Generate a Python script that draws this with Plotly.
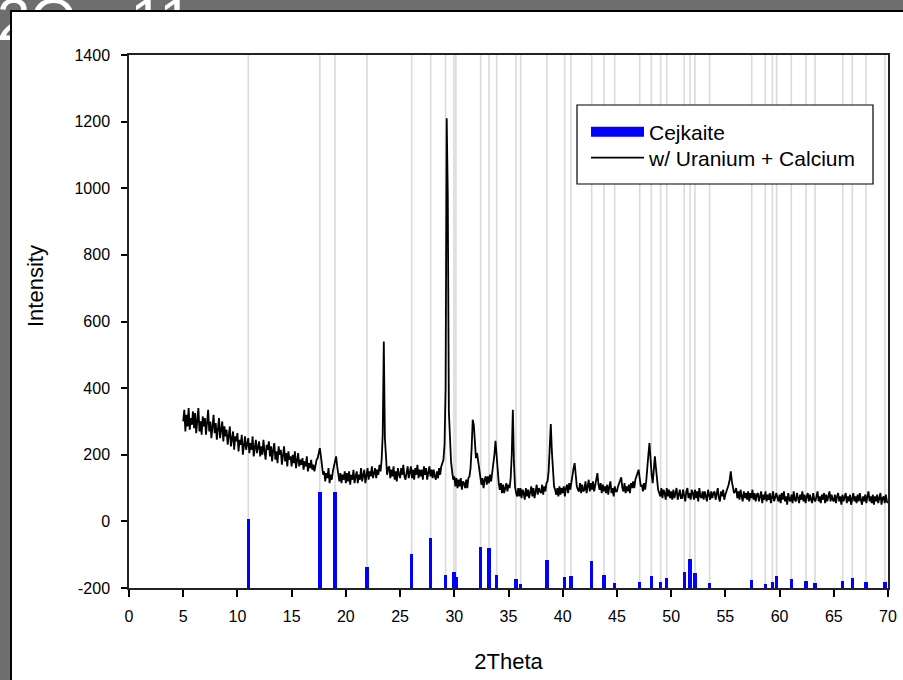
import numpy as np
import plotly.graph_objects as go

# ---------------- data ----------------
# Cejkaite reference pattern (2Theta, top of each stick; sticks start at -200)
cejkaite_2theta = [11.0, 17.6, 19.0, 21.95, 26.07, 27.82, 29.2, 29.97, 30.15,
                   32.43, 33.2, 33.91, 35.69, 36.12, 38.55, 40.18, 40.76, 42.67,
                   43.81, 44.79, 47.1, 48.17, 49.03, 49.59, 51.21, 51.74, 52.2,
                   53.55, 57.43, 58.69, 59.33, 59.73, 61.08, 62.44, 63.27, 65.82,
                   66.71, 67.97, 69.72]
cejkaite_top = [8, 89, 88, -136, -99, -51, -161, -153, -168,
                -76, -79, -161, -173, -188, -116, -168, -164, -118,
                -161, -186, -181, -164, -181, -169, -152, -112, -156,
                -186, -176, -188, -181, -164, -173, -178, -186, -178,
                -171, -181, -183]
bar_base = -200

# Measured pattern, 2Theta from 5.0 in steps of 0.1 (one row per degree)
sample_intensity = [
    300, 335, 270, 320, 285, 340, 275, 310, 290, 330,   # 5
    280, 325, 265, 305, 340, 270, 300, 260, 315, 285,   # 6
    310, 260, 295, 335, 270, 300, 250, 290, 320, 265,   # 7
    295, 245, 280, 310, 250, 275, 300, 240, 285, 255,   # 8
    275, 230, 260, 285, 225, 250, 270, 215, 255, 240,   # 9
    265, 210, 245, 230, 260, 200, 240, 255, 215, 235,   # 10
    250, 205, 235, 215, 255, 195, 230, 245, 205, 225,   # 11
    240, 195, 225, 200, 245, 210, 185, 230, 215, 240,   # 12
    195, 225, 180, 215, 235, 185, 210, 175, 225, 200,   # 13
    215, 170, 200, 225, 180, 205, 165, 210, 185, 195,   # 14
    165, 200, 175, 210, 160, 190, 205, 165, 185, 170,   # 15
    190, 155, 180, 165, 195, 150, 175, 160, 185, 155,   # 16
    170, 150, 175, 185, 190, 210, 220, 195, 160, 140,   # 17
    150, 120, 145, 130, 160, 115, 140, 125, 150, 165,   # 18
    180, 195, 165, 140, 120, 145, 115, 140, 125, 150,   # 19
    115, 145, 120, 150, 110, 140, 125, 155, 115, 135,   # 20
    150, 115, 140, 125, 160, 120, 145, 155, 115, 140,   # 21
    160, 125, 150, 135, 165, 130, 145, 160, 130, 155,   # 22
    140, 170, 150, 185, 260, 540, 250, 170, 140, 160,   # 23
    165, 130, 155, 135, 165, 125, 150, 120, 160, 140,   # 24
    130, 160, 140, 170, 135, 125, 155, 165, 130, 150,   # 25
    165, 130, 155, 125, 160, 140, 170, 130, 155, 135,   # 26
    155, 125, 165, 140, 160, 125, 150, 165, 135, 155,   # 27
    130, 155, 135, 125, 150, 130, 160, 140, 165, 175,   # 28
    185, 230, 400, 1210, 980, 330, 220, 180, 150, 125,  # 29
    135, 105, 130, 100, 125, 105, 130, 95, 120, 115,    # 30
    100, 125, 100, 130, 135, 160, 220, 305, 290, 230,   # 31
    190, 205, 180, 150, 125, 110, 130, 100, 125, 135,   # 32
    110, 135, 115, 140, 120, 145, 160, 200, 242, 190,   # 33
    150, 115, 95, 115, 85, 110, 85, 105, 115, 90,       # 34
    110, 100, 130, 200, 335, 180, 105, 85, 75, 100,     # 35
    75, 100, 70, 95, 85, 65, 100, 75, 95, 70,           # 36
    90, 105, 75, 100, 70, 95, 110, 80, 100, 90,         # 37
    85, 110, 80, 105, 90, 115, 120, 150, 230, 292,      # 38
    210, 140, 105, 95, 80, 100, 75, 105, 80, 100,       # 39
    85, 105, 75, 100, 110, 85, 115, 95, 120, 150,       # 40
    160, 175, 140, 105, 95, 90, 115, 85, 110, 90,       # 41
    95, 120, 85, 110, 125, 90, 115, 95, 120, 90,        # 42
    105, 130, 145, 110, 95, 115, 85, 110, 90, 105,      # 43
    85, 110, 80, 105, 120, 85, 100, 75, 105, 90,        # 44
    90, 105, 115, 125, 132, 100, 90, 115, 85, 105,      # 45
    90, 110, 85, 115, 100, 120, 100, 125, 135, 145,     # 46
    155, 130, 105, 110, 90, 115, 95, 120, 150, 200,     # 47
    235, 170, 140, 115, 150, 195, 160, 115, 95, 85,     # 48
    75, 100, 70, 95, 85, 65, 100, 75, 95, 70,           # 49
    90, 65, 95, 70, 85, 100, 65, 80, 95, 70,            # 50
    70, 95, 80, 60, 90, 100, 70, 85, 65, 95,            # 51
    85, 65, 95, 70, 90, 60, 100, 75, 70, 90,            # 52
    65, 90, 75, 60, 95, 80, 65, 90, 70, 85,             # 53
    90, 65, 80, 100, 70, 60, 90, 75, 95, 65,            # 54
    80, 90, 95, 110, 125, 150, 120, 100, 85, 90,        # 55
    100, 70, 90, 65, 95, 75, 60, 90, 70, 85,            # 56
    65, 90, 60, 85, 70, 95, 65, 85, 60, 80,             # 57
    85, 60, 80, 90, 55, 80, 65, 90, 60, 80,             # 58
    65, 85, 55, 80, 90, 60, 75, 85, 70, 60,             # 59
    80, 55, 85, 65, 90, 60, 75, 50, 85, 65,             # 60
    60, 80, 55, 90, 65, 60, 85, 65, 55, 80,             # 61
    65, 90, 60, 80, 55, 75, 85, 60, 80, 65,             # 62
    55, 85, 65, 60, 80, 90, 60, 75, 55, 80,             # 63
    65, 85, 55, 80, 60, 75, 90, 60, 80, 65,             # 64
    60, 80, 55, 75, 85, 60, 75, 50, 80, 60,             # 65
    75, 85, 55, 75, 60, 80, 50, 75, 85, 60,             # 66
    75, 55, 80, 60, 85, 65, 50, 75, 60, 80,             # 67
    55, 75, 90, 60, 75, 55, 80, 50, 75, 60,             # 68
    80, 55, 75, 85, 50, 70, 75, 55, 80, 60,             # 69
    55,                                                 # 70
]
sample_2theta = np.round(5.0 + 0.1 * np.arange(len(sample_intensity)), 2)

x_ticks = list(range(0, 71, 5))
y_ticks = list(range(-200, 1401, 200))
y_tick_labels = [str(v) for v in y_ticks]   # plain hyphen, as in the original

header_text = "2\u0398 - 11"

# ---------------- figure ----------------
FONT = "Arial, 'Liberation Sans', sans-serif"
W, H = 903, 680
ML, MR, MT, MB = 129, 15, 55, 92
pw, ph = W - ML - MR, H - MT - MB


def px_to_paper_x(px):
    return (px - ML) / pw


def py_to_paper_y(py):
    return (H - MB - py) / ph


fig = go.Figure()

fig.add_trace(go.Bar(
    x=cejkaite_2theta,
    y=[t - bar_base for t in cejkaite_top],
    base=bar_base,
    width=0.32,
    marker=dict(color="#0000ff", line=dict(width=0)),
    name="Cejkaite",
    showlegend=False,
))
# legend proxy for the Cejkaite sticks (wide blue swatch as in the original)
fig.add_trace(go.Scatter(
    x=[None], y=[None], mode="lines",
    line=dict(color="#0000ff", width=19),
    name="Cejkaite", legend="legend",
))
fig.add_trace(go.Scatter(
    x=sample_2theta, y=sample_intensity,
    mode="lines",
    line=dict(color="black", width=1.8),
    name="w/ Uranium + Calcium", legend="legend2",
))

shapes = [
    # white panel on the gray page
    dict(type="rect", xref="paper", yref="paper",
         x0=px_to_paper_x(10), x1=px_to_paper_x(W + 20),
         y0=py_to_paper_y(H + 20), y1=py_to_paper_y(10),
         fillcolor="white", line=dict(width=0), layer="below"),
]
for p in cejkaite_2theta:
    shapes.append(dict(type="line", xref="x", yref="paper", x0=p, x1=p, y0=0, y1=1,
                       line=dict(color="#dadada", width=1.6), layer="below"))
# legend box (covers grid lines)
shapes.append(dict(type="rect", xref="paper", yref="paper",
                   x0=px_to_paper_x(577), x1=px_to_paper_x(873),
                   y0=py_to_paper_y(184), y1=py_to_paper_y(105),
                   fillcolor="white", line=dict(color="black", width=1.2), layer="above"))

annotations = [
    dict(text=header_text, xref="paper", yref="paper",
         x=px_to_paper_x(-5), y=py_to_paper_y(20), xanchor="left", yanchor="middle",
         showarrow=False, font=dict(family=FONT, size=60, color="white")),
    # panel border drawn over the header
    dict(text=" ", xref="paper", yref="paper",
         x=px_to_paper_x(10), y=py_to_paper_y(10), xanchor="left", yanchor="top",
         width=1300, height=1000, showarrow=False,
         bordercolor="black", borderwidth=2, borderpad=0, bgcolor="rgba(0,0,0,0)"),
    # y axis title (sits above the plot centre in the original)
    dict(text="Intensity", xref="paper", yref="paper",
         x=px_to_paper_x(35), y=py_to_paper_y(286), xanchor="center", yanchor="middle",
         textangle=-90, showarrow=False, font=dict(family=FONT, size=22, color="black")),
]

legend_common = dict(xanchor="left", yanchor="middle", bgcolor="rgba(0,0,0,0)", borderwidth=0,
                     font=dict(family=FONT, size=21, color="black"), itemwidth=53)

fig.update_layout(
    width=W, height=H,
    margin=dict(l=ML, r=MR, t=MT, b=MB, autoexpand=False),
    paper_bgcolor="#6e6e6e",
    plot_bgcolor="white",
    font=dict(family=FONT, size=16, color="black"),
    shapes=shapes,
    annotations=annotations,
    bargap=0,
    showlegend=True,
    legend=dict(x=px_to_paper_x(586), y=py_to_paper_y(132), **legend_common),
    legend2=dict(x=px_to_paper_x(586), y=py_to_paper_y(158), **legend_common),
    xaxis=dict(range=[0, 70], tickvals=x_ticks, ticks="outside", ticklen=7, tickwidth=1.5,
               tickcolor="black", showgrid=False, zeroline=False,
               showline=True, linecolor="#222", linewidth=1.5, mirror=True,
               tickfont=dict(size=16), ticklabelstandoff=6,
               title=dict(text="2Theta", font=dict(size=22), standoff=30)),
    yaxis=dict(range=[-200, 1400], tickvals=y_ticks, ticktext=y_tick_labels,
               ticks="outside", ticklen=6, tickwidth=1.5,
               tickcolor="black", showgrid=False, zeroline=False,
               showline=True, linecolor="#222", linewidth=1.5, mirror=True,
               tickfont=dict(size=16), ticklabelstandoff=8),
)

fig.write_html("out.html")
